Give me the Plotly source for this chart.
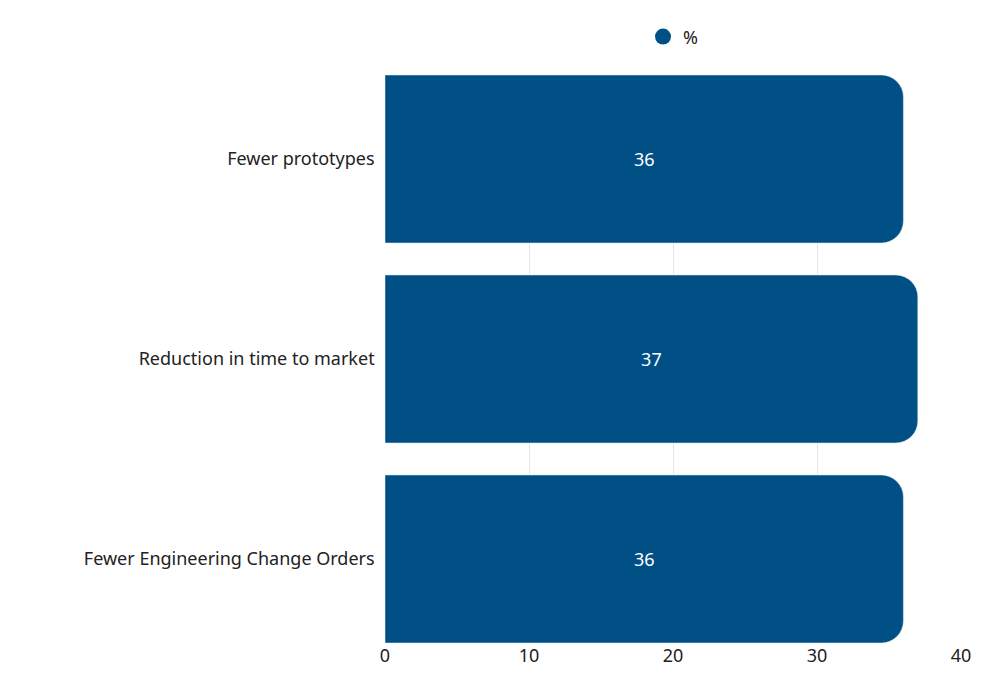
import plotly.graph_objects as go

categorias = ["Fewer prototypes", "Reduction in time to market", "Fewer Engineering Change Orders"]
valores = [36, 37, 36]
cor = "#005086"

fig = go.Figure()
fig.add_trace(go.Bar(
    x=valores, y=categorias, orientation="h", name="%", showlegend=False,
    marker=dict(color=cor),
    text=[str(v) for v in valores], textposition="inside", insidetextanchor="middle",
    textfont=dict(color="white", size=18),
))
# marcador circular da legenda
fig.add_trace(go.Scatter(x=[None], y=[None], mode="markers", name="%",
                         marker=dict(color=cor, size=22), showlegend=True))

fig.update_layout(
    width=1000, height=691,
    plot_bgcolor="white", paper_bgcolor="white",
    font=dict(family="Noto Sans", size=18, color="#222"),
    margin=dict(l=377, r=47, t=67, b=56, autoexpand=False),
    bargap=0.16, barcornerradius=22,
    legend=dict(orientation="h", x=0.5, xanchor="center", y=0.985, yanchor="top",
                yref="container", font=dict(size=18)),
    xaxis=dict(range=[0, 40], dtick=10, showgrid=True, gridcolor="#e6e6e6",
               zeroline=False, ticks="", tickfont=dict(size=18)),
    yaxis=dict(range=[2.42, -0.42], ticks="", ticksuffix="  ", tickfont=dict(size=18)),
)
fig.write_html("out.html")
